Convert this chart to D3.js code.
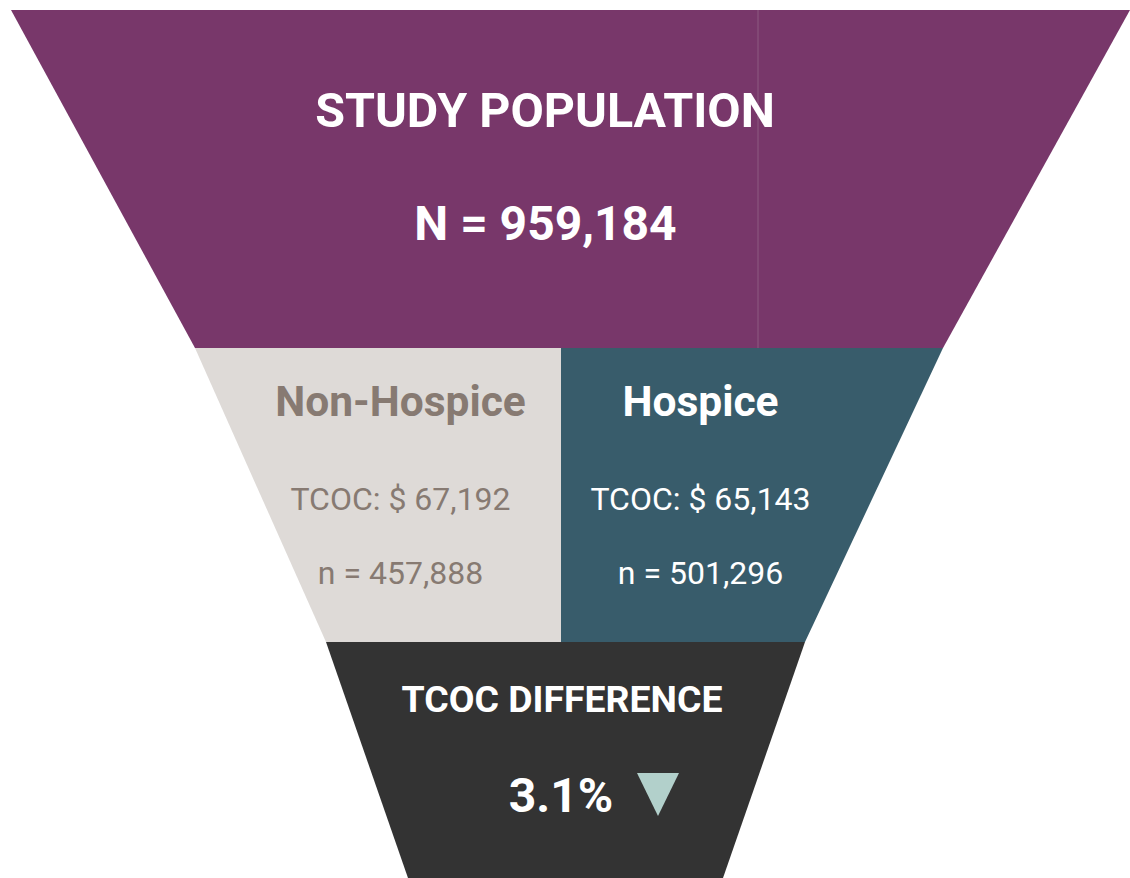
<!DOCTYPE html>
<html>
<head>
<meta charset="utf-8">
<script src="https://cdn.jsdelivr.net/npm/d3@7"></script>
<style>
  html, body { margin: 0; padding: 0; background: #fff; }
  svg { display: block; font-family: Roboto, "Noto Sans", sans-serif; }
</style>
</head>
<body>
<svg id="chart" width="1130" height="878"></svg>
<script>
// Data
const stageLabels = ["STUDY POPULATION", "COHORTS", "TCOC DIFFERENCE"];
const studyPopulation = 959184;
const cohortNames = ["Non-Hospice", "Hospice"];
const cohortCounts = [457888, 501296];
const cohortTcoc = [67192, 65143];
const tcocDifferencePct = [3.1];

const fmt = d3.format(",");

const svg = d3.select("#chart");

// stage boundaries (vertical)
const y = d3.scaleLinear().domain([0, 1, 2, 3]).range([10, 348, 642, 878]);
// funnel edges per boundary
const leftEdge = [11, 195, 326, 408];
const rightEdge = [1130, 943, 805, 723];
const splitX = 561;

const poly = (pts) => "M" + pts.map((p) => p.join(",")).join("L") + "Z";

// Top band
svg.append("path")
  .attr("d", poly([[leftEdge[0], y(0)], [rightEdge[0], y(0)], [rightEdge[1], y(1)], [leftEdge[1], y(1)]]))
  .attr("fill", "#78376a");
svg.append("line")
  .attr("x1", 758).attr("x2", 758)
  .attr("y1", y(0)).attr("y2", y(1))
  .attr("stroke", "#8c5a80")
  .attr("stroke-width", 1);

// Middle band, split into cohorts
svg.append("path")
  .attr("d", poly([[leftEdge[1], y(1)], [splitX, y(1)], [splitX, y(2)], [leftEdge[2], y(2)]]))
  .attr("fill", "#dedad7");
svg.append("path")
  .attr("d", poly([[splitX, y(1)], [rightEdge[1], y(1)], [rightEdge[2], y(2)], [splitX, y(2)]]))
  .attr("fill", "#385c6b");

// Bottom band
svg.append("path")
  .attr("d", poly([[leftEdge[2], y(2)], [rightEdge[2], y(2)], [rightEdge[3], y(3)], [leftEdge[3], y(3)]]))
  .attr("fill", "#333333");

// Top texts
svg.append("text")
  .attr("x", 545).attr("y", 127)
  .attr("text-anchor", "middle")
  .attr("font-size", 48.4).attr("font-weight", 700)
  .attr("fill", "#fff")
  .text(stageLabels[0]);
svg.append("text")
  .attr("x", 545.5).attr("y", 240)
  .attr("text-anchor", "middle")
  .attr("font-size", 48).attr("font-weight", 700)
  .attr("fill", "#fff")
  .text("N = " + fmt(studyPopulation));

// Cohort texts
const cohortX = [400.5, 700.5];
const cohortColor = ["#877a72", "#ffffff"];
const g = svg.selectAll(".cohort")
  .data(cohortNames.map((name, i) => ({ name, n: cohortCounts[i], tcoc: cohortTcoc[i], i })))
  .join("g")
  .attr("class", "cohort");

g.append("text")
  .attr("x", (d) => cohortX[d.i]).attr("y", 416)
  .attr("text-anchor", "middle")
  .attr("font-size", 42.5).attr("font-weight", 700)
  .attr("fill", (d) => cohortColor[d.i])
  .text((d) => d.name);
g.append("text")
  .attr("x", (d) => cohortX[d.i]).attr("y", 510)
  .attr("text-anchor", "middle")
  .attr("font-size", 32).attr("font-weight", 400)
  .attr("fill", (d) => cohortColor[d.i])
  .text((d) => "TCOC: $ " + fmt(d.tcoc));
g.append("text")
  .attr("x", (d) => cohortX[d.i]).attr("y", 584)
  .attr("text-anchor", "middle")
  .attr("font-size", 32).attr("font-weight", 400)
  .attr("fill", (d) => cohortColor[d.i])
  .text((d) => "n = " + fmt(d.n));

// Bottom texts
svg.append("text")
  .attr("x", 562).attr("y", 712)
  .attr("text-anchor", "middle")
  .attr("font-size", 37.4).attr("font-weight", 700)
  .attr("fill", "#fff")
  .text(stageLabels[2]);
svg.append("text")
  .attr("x", 561).attr("y", 812)
  .attr("text-anchor", "middle")
  .attr("font-size", 48).attr("font-weight", 700)
  .attr("fill", "#fff")
  .text(tcocDifferencePct[0] + "%");
svg.append("path")
  .attr("d", poly([[637, 773], [679, 773], [658, 816]]))
  .attr("fill", "#b2d0cb");
</script>
</body>
</html>
